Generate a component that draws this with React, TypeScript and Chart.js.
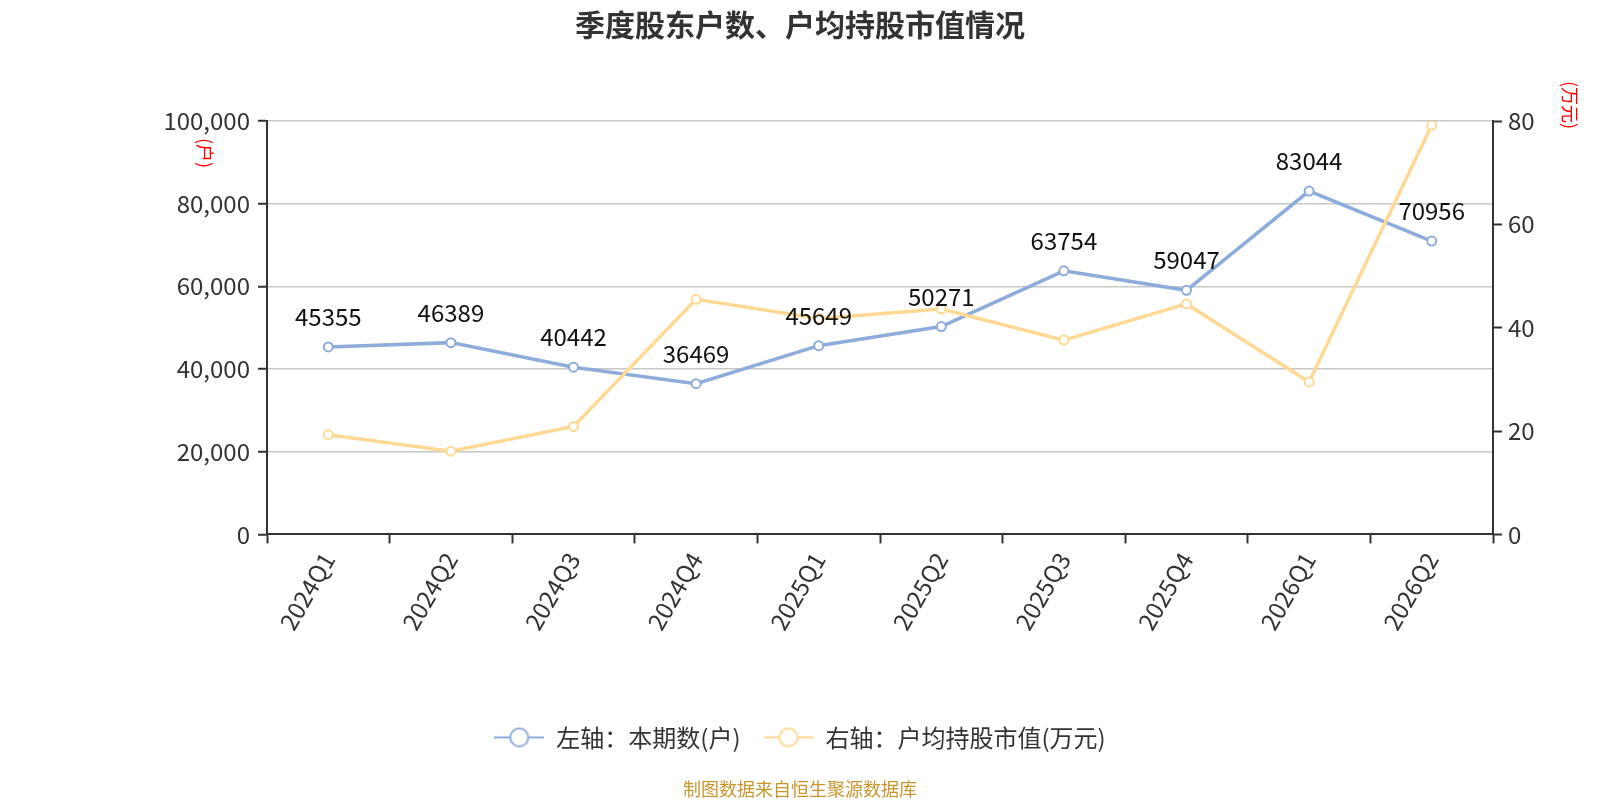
import React, { useEffect, useRef } from "react";
import { Chart, registerables } from "chart.js";

Chart.register(...registerables);

const categories = ["2024Q1", "2024Q2", "2024Q3", "2024Q4", "2025Q1", "2025Q2", "2025Q3", "2025Q4", "2026Q1", "2026Q2"];
const holders = [45355, 46389, 40442, 36469, 45649, 50271, 63754, 59047, 83044, 70956];
const avgValue = [19.3, 16.1, 20.9, 45.5, 41.8, 43.6, 37.6, 44.6, 29.5, 79.2];
const leftTicks = [0, 20000, 40000, 60000, 80000, 100000];
const rightTicks = [0, 20, 40, 60, 80];

const FONT = "'Noto Sans CJK SC', 'Noto Sans', sans-serif";
const BLUE = "#8eacdb";
const YELLOW = "#ffd993";

function makeIcon(color: string) {
  const c = document.createElement("canvas");
  c.width = 50;
  c.height = 24;
  const g = c.getContext("2d")!;
  g.strokeStyle = color;
  g.lineWidth = 2;
  g.beginPath();
  g.moveTo(0, 12);
  g.lineTo(50, 12);
  g.stroke();
  g.beginPath();
  g.arc(25, 12, 9, 0, Math.PI * 2);
  g.fillStyle = "#fff";
  g.fill();
  g.stroke();
  return c;
}

const extrasPlugin = {
  id: "extras",
  afterDatasetsDraw(chart: any) {
    const ctx = chart.ctx;
    const meta = chart.getDatasetMeta(0);
    ctx.save();
    ctx.font = `24px ${FONT}`;
    ctx.fillStyle = "#111";
    ctx.textAlign = "center";
    ctx.textBaseline = "alphabetic";
    meta.data.forEach((pt: any, i: number) => {
      ctx.fillText(String(holders[i]), pt.x, pt.y - 21);
    });
    ctx.restore();
  },
  afterDraw(chart: any) {
    const ctx = chart.ctx;
    const a = chart.chartArea;
    ctx.save();
    ctx.font = `18px ${FONT}`;
    ctx.fillStyle = "#ff0000";
    ctx.textAlign = "center";
    ctx.textBaseline = "middle";
    ctx.translate(a.left - 62, a.top + 32);
    ctx.rotate(Math.PI / 2);
    ctx.fillText("(户)", 0, 0);
    ctx.restore();
    ctx.save();
    ctx.font = `18px ${FONT}`;
    ctx.fillStyle = "#ff0000";
    ctx.textAlign = "center";
    ctx.textBaseline = "middle";
    ctx.translate(a.right + 77, a.top - 16);
    ctx.rotate(Math.PI / 2);
    ctx.fillText("(万元)", 0, 0);
    ctx.restore();
  },
};

export default function App() {
  const ref = useRef<HTMLCanvasElement>(null);
  useEffect(() => {
    document.body.style.margin = "0";
    const icons = [makeIcon(BLUE), makeIcon(YELLOW)];
    const chart = new Chart(ref.current!, {
      type: "line",
      data: {
        labels: categories,
        datasets: [
          {
            label: "左轴：本期数(户)",
            data: holders,
            yAxisID: "y",
            borderColor: BLUE,
            backgroundColor: "#fff",
            borderWidth: 3.5,
            pointRadius: 4.5,
            pointBorderWidth: 2,
            pointBackgroundColor: "#fff",
            pointBorderColor: BLUE,
            order: 1,
          },
          {
            label: "右轴：户均持股市值(万元)",
            data: avgValue,
            yAxisID: "y1",
            borderColor: YELLOW,
            backgroundColor: "#fff",
            borderWidth: 3.5,
            pointRadius: 4.5,
            pointBorderWidth: 2,
            pointBackgroundColor: "#fff",
            pointBorderColor: YELLOW,
            order: 0,
          },
        ],
      },
      options: {
        animation: false,
        responsive: true,
        maintainAspectRatio: false,
        layout: { padding: 0 },
        plugins: {
          tooltip: { enabled: false },
          title: {
            display: true,
            text: "季度股东户数、户均持股市值情况",
            color: "#333",
            font: { family: FONT, size: 30, weight: "bold", lineHeight: 1.2 },
            padding: { top: 7, bottom: 78 },
          },
          subtitle: {
            display: true,
            position: "bottom",
            text: "制图数据来自恒生聚源数据库",
            color: "#c8962d",
            font: { family: FONT, size: 18, lineHeight: 1.2 },
            padding: { top: 19, bottom: 0 },
          },
          legend: {
            display: true,
            position: "bottom",
            labels: {
              usePointStyle: true,
              pointStyleWidth: 50,
              padding: 23,
              color: "#333",
              font: { family: FONT, size: 24 },
              sort: (a: any, b: any) => a.datasetIndex - b.datasetIndex,
              generateLabels: (chart: any) => {
                const items = Chart.defaults.plugins.legend.labels.generateLabels(chart);
                return items.map((it: any) => ({ ...it, pointStyle: icons[it.datasetIndex] }));
              },
            },
          },
        },
        scales: {
          x: {
            type: "category",
            offset: true,
            grid: {
              offset: true,
              drawOnChartArea: false,
              drawTicks: true,
              tickLength: 9,
              tickWidth: 2,
              tickColor: "#333",
            },
            border: { display: true, color: "#333", width: 2 },
            ticks: {
              color: "#333",
              font: { family: FONT, size: 24 },
              minRotation: 60,
              maxRotation: 60,
              autoSkip: false,
              padding: 4,
            },
            afterFit: (s: any) => {
              s.height = 168;
            },
          },
          y: {
            type: "linear",
            position: "left",
            min: 0,
            max: 100000,
            afterBuildTicks: (s: any) => {
              s.ticks = leftTicks.map((v) => ({ value: v }));
            },
            grid: {
              color: (c: any) => (c.tick && c.tick.value === 0 ? "rgba(0,0,0,0)" : "#c8c8c8"),
              lineWidth: 1.5,
              tickLength: 9,
              tickWidth: 2,
              tickColor: "#333",
            },
            border: { display: true, color: "#333", width: 2 },
            ticks: {
              color: "#333",
              font: { family: FONT, size: 24 },
              padding: 8,
              callback: (v: any) => Number(v).toLocaleString("en-US"),
            },
            afterFit: (s: any) => {
              s.width = 267;
            },
          },
          y1: {
            type: "linear",
            position: "right",
            min: 0,
            max: 80,
            afterBuildTicks: (s: any) => {
              s.ticks = rightTicks.map((v) => ({ value: v }));
            },
            grid: {
              drawOnChartArea: false,
              tickLength: 9,
              tickWidth: 2,
              tickColor: "#333",
            },
            border: { display: true, color: "#333", width: 2 },
            ticks: {
              color: "#333",
              font: { family: FONT, size: 24 },
              padding: 6,
            },
            afterFit: (s: any) => {
              s.width = 107;
            },
          },
        },
      },
      plugins: [extrasPlugin],
    });
    return () => chart.destroy();
  }, []);
  return (
    <div style={{ width: 1600, height: 800, position: "relative" }}>
      <canvas ref={ref} />
    </div>
  );
}
